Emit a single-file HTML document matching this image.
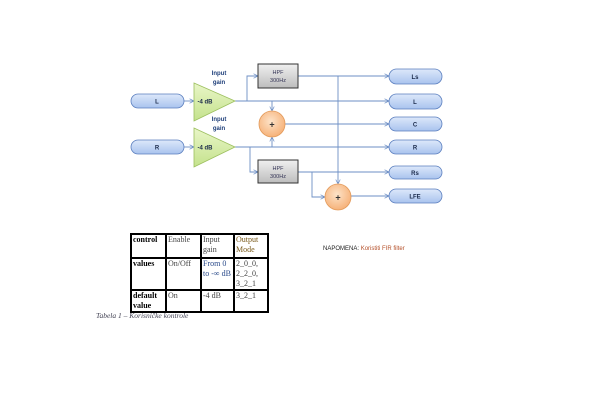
<!DOCTYPE html>
<html><head><meta charset="utf-8"><style>
body{margin:0;background:#fff;width:595px;height:420px;overflow:hidden;position:relative;font-family:"Liberation Sans",sans-serif}
table{position:absolute;left:130px;top:233px;border-collapse:collapse;font-family:"Liberation Serif",serif;font-size:8px;line-height:10px}
td{border:2px solid #000;vertical-align:top;padding:0 1px;color:#444}
.cap{position:absolute;left:96px;top:311px;font-family:"Liberation Serif",serif;font-style:italic;font-size:7.5px;color:#445}
.nap{position:absolute;left:323px;top:246px;font-size:6px;color:#222}
</style></head><body>
<svg width="595" height="420" style="position:absolute;left:0;top:0" font-family="Liberation Sans, sans-serif">
<defs>
<linearGradient id="pill" x1="0" y1="0" x2="0" y2="1"><stop offset="0" stop-color="#dde8fa"/><stop offset="1" stop-color="#a9c3ee"/></linearGradient>
<linearGradient id="tri" x1="0" y1="0" x2="0" y2="1"><stop offset="0" stop-color="#e9f6c8"/><stop offset="1" stop-color="#c4e28c"/></linearGradient>
<linearGradient id="hpf" x1="0" y1="0" x2="0" y2="1"><stop offset="0" stop-color="#f0f0f0"/><stop offset="1" stop-color="#bdbdbd"/></linearGradient>
<radialGradient id="sum" cx="0.45" cy="0.4" r="0.6"><stop offset="0" stop-color="#fde3c8"/><stop offset="1" stop-color="#f6b27a"/></radialGradient>
<marker id="a" markerWidth="6" markerHeight="6" refX="5" refY="3" orient="auto"><path d="M0,0.5 L5,3 L0,5.5" fill="none" stroke="#6d8fc5" stroke-width="0.8"/></marker>
</defs>
<g stroke="#6d8fc5" stroke-width="0.9" fill="none">
<line x1="184" y1="101" x2="194" y2="101" marker-end="url(#a)"/>
<line x1="184" y1="147" x2="194" y2="147" marker-end="url(#a)"/>
<line x1="235" y1="101" x2="389" y2="101" marker-end="url(#a)"/>
<line x1="235" y1="147" x2="389" y2="147" marker-end="url(#a)"/>
<polyline points="247,101 247,76 258,76" marker-end="url(#a)"/>
<polyline points="250,147 250,172 258,172" marker-end="url(#a)"/>
<line x1="272" y1="101" x2="272" y2="111" marker-end="url(#a)"/>
<line x1="272" y1="147" x2="272" y2="137" marker-end="url(#a)"/>
<line x1="298" y1="76" x2="389" y2="76" marker-end="url(#a)"/>
<line x1="338" y1="76" x2="338" y2="184" marker-end="url(#a)"/>
<line x1="298" y1="172" x2="389" y2="172" marker-end="url(#a)"/>
<polyline points="312,172 312,197 325,197" marker-end="url(#a)"/>
<line x1="285" y1="124" x2="389" y2="124" marker-end="url(#a)"/>
<line x1="351" y1="196" x2="389" y2="196" marker-end="url(#a)"/>
</g>
<g stroke="#5b7fbf" stroke-width="0.8" fill="url(#pill)">
<rect x="131" y="94" width="53" height="14" rx="7"/>
<rect x="131" y="140" width="53" height="14" rx="7"/>
<rect x="389" y="69" width="53" height="15" rx="7.5"/>
<rect x="389" y="94" width="53" height="15" rx="7.5"/>
<rect x="389" y="117" width="53" height="14" rx="7"/>
<rect x="389" y="140" width="53" height="14" rx="7"/>
<rect x="389" y="166" width="53" height="13" rx="6.5"/>
<rect x="389" y="189" width="53" height="14" rx="7"/>
</g>
<g stroke="#9cbf5e" stroke-width="0.8" fill="url(#tri)">
<polygon points="194,83 235,101 194,121"/>
<polygon points="194,128 235,147 194,167"/>
</g>
<g stroke="#333" stroke-width="1" fill="url(#hpf)">
<rect x="258" y="64" width="40" height="24"/>
<rect x="258" y="160" width="40" height="23"/>
</g>
<g stroke="#e39a5a" stroke-width="0.8" fill="url(#sum)">
<circle cx="272" cy="124" r="13"/>
<circle cx="338" cy="197" r="13"/>
</g>
<g font-size="6" font-weight="bold" fill="#1a2a4a" text-anchor="middle">
<text x="157" y="103.5">L</text><text x="157" y="149.5">R</text>
<text x="415" y="79">Ls</text><text x="415" y="104">L</text><text x="415" y="126.5">C</text>
<text x="415" y="149.5">R</text><text x="415" y="175">Rs</text><text x="415" y="198.5">LFE</text>
<text x="205" y="103.5">-4 dB</text><text x="205" y="149.5">-4 dB</text>
<text x="219" y="75" fill="#1f3f7a">Input</text><text x="219" y="84" fill="#1f3f7a">gain</text>
<text x="219" y="121" fill="#1f3f7a">Input</text><text x="219" y="130" fill="#1f3f7a">gain</text>
</g>
<g font-size="5.5" fill="#335" text-anchor="middle">
<text x="278" y="74">HPF</text><text x="278" y="82">300Hz</text>
<text x="278" y="170">HPF</text><text x="278" y="178">300Hz</text>
</g>
<g font-size="9" font-weight="bold" fill="#333" text-anchor="middle">
<text x="272" y="127.5">+</text><text x="338" y="200.5">+</text>
</g>
</svg>
<table>
<tr style="height:24px"><td style="width:31px;color:#000;font-weight:bold">control</td><td style="width:31px">Enable</td><td style="width:29px">Input gain</td><td style="width:30px;color:#7a5a1a">Output Mode</td></tr>
<tr style="height:32px"><td style="color:#000;font-weight:bold">values</td><td>On/Off</td><td style="color:#2a4a8a">From 0 to -∞ dB</td><td>2_0_0, 2_2_0, 3_2_1</td></tr>
<tr style="height:21px"><td style="color:#000;font-weight:bold">default value</td><td>On</td><td>-4 dB</td><td>3_2_1</td></tr>
</table>
<div class="cap">Tabela 1 – Korisničke kontrole</div>
<div class="nap">NAPOMENA: <span style="color:#b5502a">Koristiti FIR filter</span></div>
</body></html>
